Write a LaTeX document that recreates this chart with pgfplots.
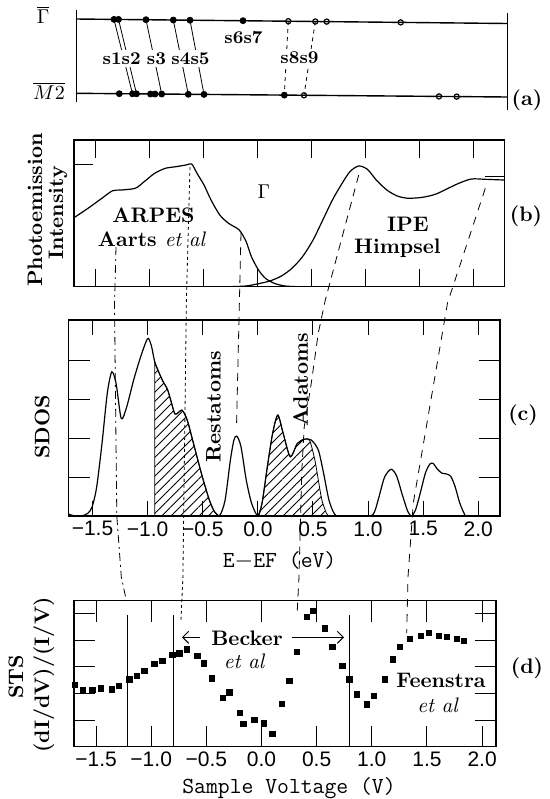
\documentclass[border=0pt]{standalone}
\usepackage{fontspec}
\usepackage{pgfplots}
\pgfplotsset{compat=1.18}
\usetikzlibrary{patterns.meta,arrows.meta}
\newfontfamily\tickfont{Liberation Sans}

\pgfplotsset{
  panel/.style={scale only axis, anchor=south west,
    axis line style={line width=0.6pt},
    tick align=inside,
    xtick={-1.5,-1,-0.5,0,0.5,1,1.5,2},
    xticklabel style={font=\tickfont\fontsize{10.5}{11}\selectfont, yshift=-1.5pt, inner sep=1pt}},
  curve/.style={black, line width=0.6pt, no marks, smooth, tension=0.45},
}
\tikzset{
  bl/.style={font=\fontsize{10.5}{12}\selectfont\bfseries, inner sep=0pt},
  sl/.style={font=\fontsize{9}{10}\selectfont\bfseries, fill=white, inner sep=1.2pt},
  tl/.style={font=\ttfamily\fontsize{11.5}{12}\selectfont, inner sep=0pt},
  conn/.style={line width=0.4pt},
}

\begin{document}
\begin{tikzpicture}
\useasboundingbox (0,0) rectangle (275pt,-399.5pt);

% (a) surface states at Gamma and M2
\begin{axis}[at={(38pt,-55pt)}, anchor=south west, scale only axis,
  width=215.75pt, height=50pt, xmin=76, xmax=507.5, ymin=-110, ymax=-10,
  hide axis, clip=false]
\addplot[line width=0.7pt] coordinates {(76,-19) (507.5,-23.5)};
\addplot[line width=0.7pt] coordinates {(76,-93.3) (507.5,-97)};
\addplot[line width=0.5pt] coordinates {(76,-10) (76,-102)};
\addplot[line width=0.5pt] coordinates {(507.5,-13) (507.5,-110)};
\addplot[conn] coordinates {(114,-19.4) (132.5,-93.8)};
\addplot[conn] coordinates {(118.5,-19.4) (136.5,-93.8)};
\addplot[conn] coordinates {(146,-19.7) (161.7,-94.0)};
\addplot[conn] coordinates {(173.3,-20.0) (188.3,-94.3)};
\addplot[conn] coordinates {(190,-20.2) (204,-94.4)};
\addplot[conn, dash pattern=on 2pt off 2pt] coordinates {(288.3,-21.2) (284.3,-95.1)};
\addplot[conn, dash pattern=on 2pt off 2pt] coordinates {(315.3,-21.5) (304,-95.3)};
\addplot[only marks, mark=*, mark size=1.5pt] coordinates {
  (114,-19.4) (118.5,-19.4) (146,-19.7) (173.3,-20.0) (190,-20.2) (243,-20.7)
  (119.3,-93.7) (132.5,-93.8) (136.5,-93.8) (150.5,-94.0) (155,-94.0)
  (161.7,-94.0) (188.3,-94.3) (204,-94.4) (284.3,-95.1)};
\addplot[only marks, mark=o, mark size=1.3pt, mark options={fill=white, line width=0.6pt}] coordinates {
  (288.3,-21.2) (315.3,-21.5) (326.7,-21.6) (400.7,-22.4)
  (304,-95.3) (439,-96.4) (456.7,-96.6)};
\node[sl] at (axis cs:121.7,-58.3) {s1s2};
\node[sl] at (axis cs:156.5,-58.3) {s3};
\node[sl] at (axis cs:190.5,-58.3) {s4s5};
\node[sl] at (axis cs:243.5,-37.3) {s6s7};
\node[sl] at (axis cs:299.5,-57.7) {s8s9};
\end{axis}

% (b) photoemission
\begin{axis}[panel, at={(36.95pt,-143.35pt)}, width=215.4pt, height=73.35pt,
  xmin=-1.702, xmax=2.294, ymin=0, ymax=1,
  xticklabels={}, ytick=\empty,
  xtick style={black, line width=0.5pt, /pgfplots/major tick length=9pt}]
\addplot[curve] coordinates {
  (-1.702,0.470) (-1.572,0.534) (-1.442,0.603) (-1.344,0.654) (-1.263,0.659)
  (-1.132,0.671) (-1.050,0.716) (-0.953,0.773) (-0.854,0.807) (-0.756,0.818)
  (-0.659,0.830) (-0.609,0.836) (-0.560,0.773) (-0.495,0.693) (-0.430,0.591)
  (-0.349,0.489) (-0.267,0.432) (-0.169,0.387) (-0.104,0.307) (-0.055,0.204)
  (0.010,0.114) (0.075,0.057) (0.157,0.023) (0.255,0.005) (0.386,0.0) (0.548,0.0)};
\addplot[curve] coordinates {
  (-0.267,0.0) (-0.104,0.005) (0.027,0.023) (0.124,0.041) (0.223,0.073)
  (0.320,0.125) (0.418,0.204) (0.516,0.318) (0.614,0.466) (0.696,0.591)
  (0.776,0.693) (0.858,0.784) (0.940,0.823) (1.021,0.800) (1.103,0.727)
  (1.201,0.659) (1.299,0.618) (1.397,0.603) (1.527,0.609) (1.658,0.632)
  (1.853,0.700) (1.984,0.734) (2.114,0.732) (2.294,0.727)};
\draw[line width=0.5pt] (axis cs:-1.702,0.836) -- (axis cs:-1.525,0.836);
\draw[line width=0.5pt] (axis cs:2.111,0.748) -- (axis cs:2.294,0.748);
\end{axis}

% (c) SDOS
\begin{axis}[panel, at={(34.3pt,-258pt)}, width=215.7pt, height=98pt,
  xmin=-1.717, xmax=2.197, ymin=0, ymax=5.03,
  xticklabels={−1.5,−1.0,−0.5,0.0,0.5,1.0,1.5,2.0},
  ytick={1,2,3,4}, yticklabels={},
  xtick style={black, line width=0.5pt, /pgfplots/major tick length=7.5pt},
  ytick style={black, line width=0.5pt, /pgfplots/major tick length=10.5pt}]
\addplot[curve, draw=black, line width=0.4pt,
  pattern={Lines[angle=45,distance=3.3pt,line width=0.45pt]}] coordinates {
  (-0.935,3.95) (-0.90,3.70) (-0.86,3.45) (-0.82,3.25) (-0.79,2.97)
  (-0.753,2.62) (-0.72,2.66) (-0.69,2.72) (-0.66,2.60) (-0.632,2.38)
  (-0.568,1.69) (-0.504,1.01) (-0.44,0.41) (-0.393,0.11) (-0.354,0.0)} \closedcycle;
\addplot[curve, draw=black, line width=0.4pt,
  pattern={Lines[angle=45,distance=3.3pt,line width=0.45pt]}] coordinates {
  (0,0) (0.038,0.33) (0.086,1.26) (0.134,2.12) (0.181,2.59) (0.230,2.12)
  (0.294,1.52) (0.358,1.86) (0.421,1.97) (0.47,1.94) (0.517,1.44)
  (0.549,0.92) (0.581,0.41) (0.622,0.07) (0.645,0)} \closedcycle;
\addplot[curve] coordinates {
  (-1.717,0.05) (-1.66,0.0) (-1.60,0.0) (-1.542,0.07) (-1.503,0.24)
  (-1.462,0.75) (-1.414,1.86) (-1.366,3.15) (-1.325,3.70) (-1.286,3.40)
  (-1.239,2.50) (-1.190,2.80) (-1.127,3.49) (-1.063,4.09) (-1.015,4.47)
  (-0.993,4.56) (-0.965,4.36) (-0.935,3.95) (-0.90,3.70) (-0.86,3.45)
  (-0.82,3.25) (-0.79,2.97) (-0.753,2.62) (-0.72,2.66) (-0.69,2.72)
  (-0.66,2.60) (-0.632,2.38) (-0.568,1.69) (-0.504,1.01) (-0.44,0.41)
  (-0.393,0.11) (-0.345,0.02) (-0.297,0.41) (-0.249,1.44) (-0.217,1.95)
  (-0.191,2.05) (-0.153,1.78) (-0.105,0.92) (-0.057,0.33) (0.0,0.0)
  (0.038,0.33) (0.086,1.26) (0.134,2.12) (0.181,2.59) (0.230,2.12)
  (0.294,1.52) (0.358,1.86) (0.421,1.97) (0.485,1.95) (0.549,1.69)
  (0.597,1.09) (0.645,0.41) (0.692,0.07) (0.740,0.0) (1.012,0.0)
  (1.06,0.12) (1.10,0.50) (1.15,1.00) (1.21,1.20) (1.26,1.02) (1.31,0.55)
  (1.36,0.12) (1.395,0.0) (1.43,0.15) (1.47,0.55) (1.52,1.10) (1.56,1.33)
  (1.59,1.35) (1.63,1.20) (1.67,1.10) (1.71,1.08) (1.75,1.02) (1.79,0.75)
  (1.83,0.35) (1.87,0.08) (1.905,0.0) (2.197,0.0)};
\end{axis}

% (d) STS
\begin{axis}[panel, at={(37pt,-373.35pt)}, width=211pt, height=73pt,
  xmin=-1.70, xmax=2.126, ymin=0, ymax=5.49,
  xticklabels={−1.5,−1.0,−0.5,0.0,0.5,1.0,1.5,2.0},
  ytick={1,2,3,4,5}, yticklabels={},
  xtick style={black, line width=0.5pt, /pgfplots/major tick length=10.5pt},
  ytick style={black, line width=0.5pt, /pgfplots/major tick length=10.5pt}]
\addplot[black, line width=0.5pt] coordinates {(-1.213,0) (-1.213,4.95)};
\addplot[black, line width=0.5pt] coordinates {(-0.800,0) (-0.800,4.95)};
\addplot[black, line width=0.5pt] coordinates {(0.802,0) (0.802,4.95)};
\addplot[only marks, mark=square*, mark size=1.3pt] coordinates {
  (-1.691,2.320) (-1.616,2.132) (-1.534,2.132) (-1.455,2.196) (-1.353,2.158)
  (-1.292,2.293) (-1.198,2.534) (-1.131,2.658) (-1.061,2.846) (-0.971,3.109)
  (-0.899,3.222) (-0.808,3.447) (-0.745,3.511) (-0.678,3.662) (-0.582,3.410)
  (-0.519,3.135) (-0.451,2.571) (-0.352,1.842) (-0.292,2.045) (-0.195,1.278)
  (-0.165,0.853) (-0.065,1.004) (0.025,0.880) (0.098,0.478) (0.183,1.605)
  (0.252,2.481) (0.319,3.560) (0.415,4.887) (0.470,5.102) (0.576,4.451)
  (0.642,3.759) (0.733,3.045) (0.796,2.534) (0.863,1.970) (0.959,1.594)
  (1.022,1.917) (1.120,2.534) (1.190,3.286) (1.256,3.763) (1.347,4.053)
  (1.446,4.165) (1.518,4.267) (1.609,4.177) (1.679,4.139) (1.769,4.041)
  (1.838,3.989)};
\end{axis}

\begin{scope}[x=0.5pt, y=-0.5pt]
% panel letters and labels
\node[font=\fontsize{10}{12}\selectfont] at (43,15) {$\overline{\Gamma}$};
\node[font=\fontsize{10}{12}\selectfont] at (49,91) {$\overline{M2}$};
\node[bl] at (527,100) {(a)};
\node[bl, rotate=90] at (35,210) {Photoemission};
\node[bl, rotate=90] at (58,213) {Intensity};
\node[bl] at (153.5,215) {ARPES};
\node[bl] at (152,239.3) {Aarts \textit{\mdseries et al}};
\node[font=\fontsize{10}{11}\selectfont] at (263.8,191.7) {$\Gamma$};
\node[bl] at (408,224) {IPE};
\node[bl] at (397.4,248.3) {Himpsel};
\node[bl] at (526,216.7) {(b)};
\node[bl, rotate=90] at (42.2,426.7) {SDOS};
\node[bl, rotate=90] at (213.5,406.7) {Restatoms};
\node[bl, rotate=90] at (300.7,380) {Adatoms};
\node[bl] at (523,415) {(c)};
\node[tl] at (279.6,561) {E$-$EF (eV)};
\node[bl, rotate=90] at (15.8,677) {STS};
\node[bl, rotate=90] at (44,675) {(dI/dV)/(I/V)};
\node[bl] at (527,668) {(d)};
\node[bl] at (247,638) {Becker};
\node[font=\fontsize{10.5}{12}\selectfont\itshape] at (244,661) {et al};
\node[bl] at (441,680.7) {Feenstra};
\node[font=\fontsize{10.5}{12}\selectfont\itshape] at (437.5,705) {et al};
\node[tl] at (289,788) {Sample Voltage (V)};
\draw[line width=0.5pt, -{Straight Barb[length=3pt]}] (292,637.3) -- (344,637.3);
\draw[line width=0.5pt, -{Straight Barb[length=3pt]}] (200,637.3) -- (182,637.3);
% dashed guide lines between panels
\draw[conn, dash pattern=on 4pt off 2pt on 1pt off 2pt] (116,247) -- (114.5,305) -- (116.8,516) -- (121.3,577) -- (126.5,601);
\draw[conn, dash pattern=on 1.5pt off 1.5pt] (190,167) -- (186.4,300) -- (182.9,577) -- (181,620);
\draw[conn, dash pattern=on 4pt off 3pt] (241,233) -- (236.5,427);
\draw[conn, dash pattern=on 4pt off 3pt] (358.7,175) -- (325.3,300) -- (318.3,333) -- (311.3,383) -- (304.2,427) -- (301.7,473) -- (299,577) -- (297,616);
\draw[conn, dash pattern=on 4pt off 3.5pt] (485.3,188.3) -- (447.5,303) -- (413.3,503) -- (408,577) -- (406.7,633);
\end{scope}
\end{tikzpicture}
\end{document}
